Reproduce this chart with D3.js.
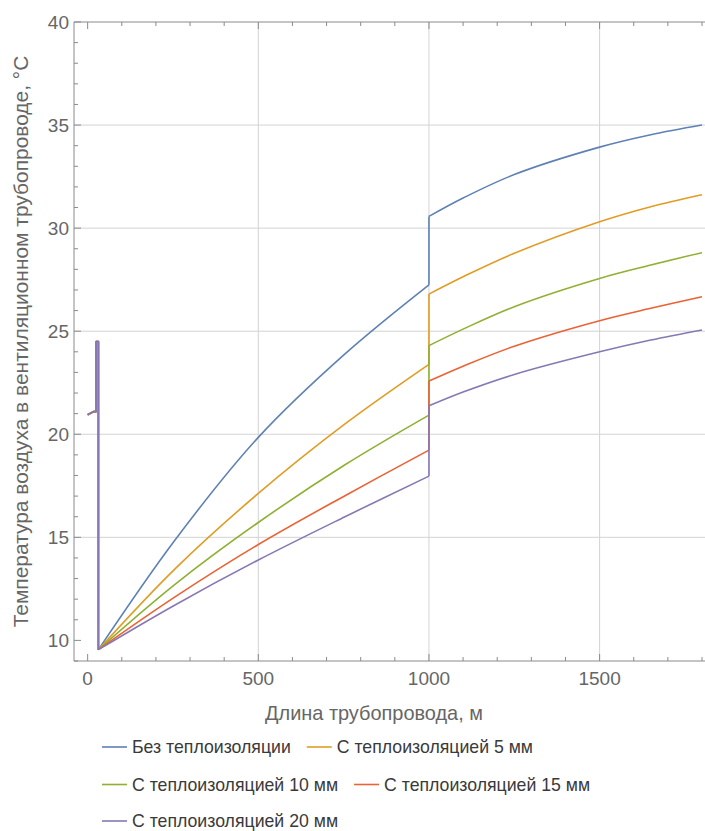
<!DOCTYPE html>
<html>
<head>
<meta charset="utf-8">
<script src="https://cdn.jsdelivr.net/npm/d3@7"></script>
<style>
  html, body { margin: 0; padding: 0; background: #fff; }
  svg { display: block; font-family: "Liberation Sans", Arial, sans-serif; }
</style>
</head>
<body>
<svg id="chart" width="705" height="831"></svg>
<script>
// Series names and colours
const seriesNames = [
  "Без теплоизоляции",
  "С теплоизоляцией 5 мм",
  "С теплоизоляцией 10 мм",
  "С теплоизоляцией 15 мм",
  "С теплоизоляцией 20 мм"
];
const seriesColors = ["#5E81B5", "#E19C24", "#8FB032", "#EB6235", "#8778B3"];

// Shared start of every curve (inlet section before the pipe)
const startX = [0, 18, 25, 25, 31.5, 31.5];
const startT = [20.95, 21.1, 21.1, 24.5, 24.5, 9.55];

// First pipe section, distance in m
const sectionAX = [31.5, 256, 500, 754, 1000];
const tempA_none = [9.55, 14.87, 19.85, 23.9, 27.25];
const tempA_5 = [9.55, 13.47, 17.13, 20.5, 23.39];
const tempA_10 = [9.55, 12.72, 15.72, 18.52, 20.93];
const tempA_15 = [9.55, 12.11, 14.65, 17.02, 19.23];
const tempA_20 = [9.55, 11.72, 13.9, 16.0, 17.97];

// Second pipe section
const sectionBX = [1000, 1100, 1250, 1500, 1650, 1800];
const tempB_none = [30.57, 31.46, 32.6, 33.93, 34.53, 35.0];
const tempB_5 = [26.8, 27.64, 28.78, 30.31, 31.04, 31.62];
const tempB_10 = [24.3, 25.1, 26.19, 27.56, 28.21, 28.81];
const tempB_15 = [22.58, 23.3, 24.27, 25.51, 26.11, 26.67];
const tempB_20 = [21.38, 22.05, 22.9, 24.0, 24.57, 25.06];

const tempA = [tempA_none, tempA_5, tempA_10, tempA_15, tempA_20];
const tempB = [tempB_none, tempB_5, tempB_10, tempB_15, tempB_20];

// Axis ticks
const xMajorTicks = [0, 500, 1000, 1500];
const xGridTicks = [500, 1000, 1500];
const yMajorTicks = [10, 15, 20, 25, 30, 35, 40];
const yGridTicks = [15, 20, 25, 30, 35];

const xTitle = "Длина трубопровода, м";
const yTitle = "Температура воздуха в вентиляционном трубопроводе, °C";

const svg = d3.select("#chart");
const plotLeft = 74, plotTop = 22, plotBottom = 661, plotRight = 706;

const x = d3.scaleLinear().domain([-40, 1800]).range([plotLeft, 702]);
const y = d3.scaleLinear().domain([9, 40]).range([plotBottom, plotTop]);

const axisColor = "#8a8a8a";
const labelColor = "#666";
const gridColor = "#d3d3d3";

// Sets a font size so that the text spans the given width
function fitText(sel, width) {
  const base = 19;
  sel.attr("font-size", base);
  const len = sel.node().getComputedTextLength();
  sel.attr("font-size", (base * width / len).toFixed(2));
  return sel;
}

// Grid
const grid = svg.append("g");
grid.selectAll("line.gx").data(xGridTicks).join("line")
  .attr("x1", d => x(d)).attr("x2", d => x(d))
  .attr("y1", plotTop).attr("y2", plotBottom)
  .attr("stroke", gridColor).attr("stroke-width", 1);
grid.selectAll("line.gy").data(yGridTicks).join("line")
  .attr("x1", plotLeft).attr("x2", plotRight)
  .attr("y1", d => y(d)).attr("y2", d => y(d))
  .attr("stroke", gridColor).attr("stroke-width", 1);

// Minor tick values
const xMinor = d3.range(0, 1801, 100).filter(v => v % 500 !== 0);
const yMinor = d3.range(9, 41, 1).filter(v => v % 5 !== 0);

// Bottom axis (ticks pointing inward)
const gB = svg.append("g").attr("transform", `translate(0,${plotBottom})`);
gB.append("line").attr("x1", plotLeft).attr("x2", plotRight).attr("y1", 0).attr("y2", 0)
  .attr("stroke", axisColor);
gB.selectAll("line.maj").data(xMajorTicks).join("line")
  .attr("x1", d => x(d)).attr("x2", d => x(d)).attr("y1", 0).attr("y2", -7)
  .attr("stroke", axisColor);
gB.selectAll("line.min").data(xMinor).join("line")
  .attr("x1", d => x(d)).attr("x2", d => x(d)).attr("y1", 0).attr("y2", -4)
  .attr("stroke", axisColor);
gB.selectAll("text").data(xMajorTicks).join("text")
  .attr("x", d => x(d)).attr("y", 24)
  .attr("text-anchor", "middle").attr("font-size", 19).attr("fill", labelColor)
  .text(d => d);

// Top axis (mirrored ticks, no labels)
const gT = svg.append("g").attr("transform", `translate(0,${plotTop})`);
gT.append("line").attr("x1", plotLeft).attr("x2", plotRight).attr("y1", 0).attr("y2", 0)
  .attr("stroke", axisColor);
gT.selectAll("line.maj").data(xMajorTicks).join("line")
  .attr("x1", d => x(d)).attr("x2", d => x(d)).attr("y1", 0).attr("y2", 7)
  .attr("stroke", axisColor);
gT.selectAll("line.min").data(xMinor).join("line")
  .attr("x1", d => x(d)).attr("x2", d => x(d)).attr("y1", 0).attr("y2", 4)
  .attr("stroke", axisColor);

// Left axis
const gL = svg.append("g").attr("transform", `translate(${plotLeft},0)`);
gL.append("line").attr("x1", 0).attr("x2", 0).attr("y1", plotTop).attr("y2", plotBottom)
  .attr("stroke", axisColor);
gL.selectAll("line.maj").data(yMajorTicks).join("line")
  .attr("x1", 0).attr("x2", 7).attr("y1", d => y(d)).attr("y2", d => y(d))
  .attr("stroke", axisColor);
gL.selectAll("line.min").data(yMinor).join("line")
  .attr("x1", 0).attr("x2", 4).attr("y1", d => y(d)).attr("y2", d => y(d))
  .attr("stroke", axisColor);
gL.selectAll("text").data(yMajorTicks).join("text")
  .attr("x", -5).attr("y", d => y(d)).attr("dy", "0.35em")
  .attr("text-anchor", "end").attr("font-size", 19).attr("fill", labelColor)
  .text(d => d);

// Axis titles
const xt = svg.append("text")
  .attr("x", 374).attr("y", 720)
  .attr("text-anchor", "middle").attr("fill", labelColor)
  .text(xTitle);
fitText(xt, 218);
const yt = svg.append("text")
  .attr("transform", `translate(28,${(plotTop + plotBottom) / 2}) rotate(-90)`)
  .attr("text-anchor", "middle").attr("fill", labelColor)
  .text(yTitle);
fitText(yt, 572);

// Curves
const linear = d3.line().x(d => x(d[0])).y(d => y(d[1]));
const smooth = d3.line().x(d => x(d[0])).y(d => y(d[1])).curve(d3.curveCatmullRom.alpha(0.5));

const lines = svg.append("g").attr("fill", "none").attr("stroke-width", 1.6)
  .attr("stroke-linejoin", "round");

seriesNames.forEach((name, i) => {
  const startPts = startX.map((v, k) => [v, startT[k]]);
  const ptsA = sectionAX.map((v, k) => [v, tempA[i][k]]);
  const ptsB = sectionBX.map((v, k) => [v, tempB[i][k]]);
  const step = [ptsA[ptsA.length - 1], ptsB[0]];
  const d = linear(startPts) + smooth(ptsA) + linear(step) + smooth(ptsB);
  lines.append("path").attr("d", d).attr("stroke", seriesColors[i]);
});

// Legend, laid out as a flowing list of rows
const legendRows = [[0, 1], [2, 3], [4]];
const legendRowY = [747, 784.5, 821];
const legend = svg.append("g");
// font size chosen so the first entry spans its width
const probe = legend.append("text").text(seriesNames[0]);
fitText(probe, 159);
const legendFont = +probe.attr("font-size");
probe.remove();

legendRows.forEach((row, r) => {
  let cx = 102;
  row.forEach(i => {
    legend.append("line")
      .attr("x1", cx).attr("x2", cx + 25)
      .attr("y1", legendRowY[r]).attr("y2", legendRowY[r])
      .attr("stroke", seriesColors[i]).attr("stroke-width", 1.6);
    const t = legend.append("text")
      .attr("x", cx + 30).attr("y", legendRowY[r]).attr("dy", "0.35em")
      .attr("font-size", legendFont).attr("fill", "#3a3a3a")
      .text(seriesNames[i]);
    cx += 30 + t.node().getComputedTextLength() + 16;
  });
});
</script>
</body>
</html>
